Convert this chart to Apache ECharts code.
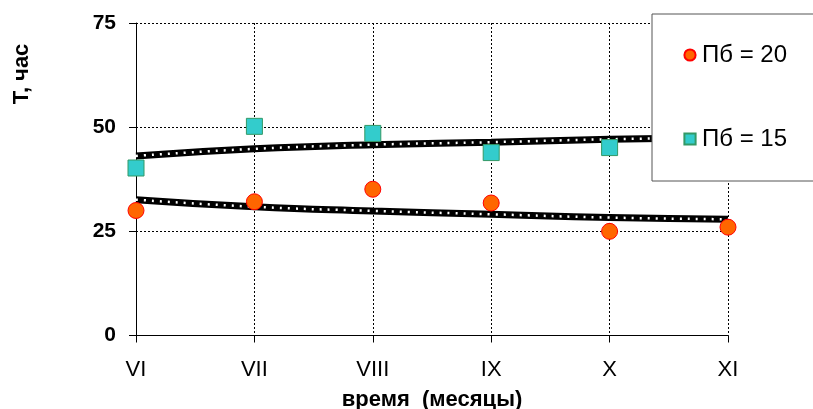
<!DOCTYPE html>
<html>
<head>
<meta charset="utf-8">
<script src="https://cdn.jsdelivr.net/npm/echarts@6/dist/echarts.min.js"></script>
<style>
  html, body { margin: 0; padding: 0; background: #fff; }
  #chart { width: 813px; height: 409px; }
</style>
</head>
<body>
<div id="chart"></div>
<script>
// months
var months = ['VI', 'VII', 'VIII', 'IX', 'X', 'XI'];
// measured points
var pb20 = [30, 32.1, 35.1, 31.8, 25, 26];
var pb15 = [40.2, 50.2, 48.5, 43.9, 45.1, 48];
// trend lines
var trend20 = [32.6, 30.9, 29.9, 29.1, 28.3, 27.9];
var trend15 = [43.1, 44.8, 45.8, 46.4, 47.1, 47.5];
var yTicks = [0, 25, 50, 75];

var myChart = echarts.init(document.getElementById('chart'));
var font = 'Liberation Sans, Arial, sans-serif';

function trendLayers(data) {
    return [
        {
            type: 'line', data: data, smooth: true, showSymbol: false, silent: true,
            lineStyle: {color: '#000', width: 7}
        },
        {
            type: 'line', data: data, smooth: true, showSymbol: false, silent: true,
            lineStyle: {color: '#fff', width: 2.5, type: [2, 6], cap: 'butt'}
        }
    ];
}

var option = {
    animation: false,
    grid: {left: 136, right: 85, top: 23, bottom: 73.5, outerBoundsMode: 'none', containLabel: false},
    legend: {
        data: ['Пб = 20', 'Пб = 15'],
        orient: 'vertical',
        left: 652, top: 14,
        padding: [29, 60, 30, 31],
        itemGap: 60,
        itemWidth: 14, itemHeight: 14,
        backgroundColor: '#fff',
        borderColor: '#555', borderWidth: 1,
        textStyle: {fontFamily: font, fontSize: 24, color: '#000'}
    },
    xAxis: {
        type: 'category',
        data: months,
        boundaryGap: false,
        name: 'время  (месяцы)',
        nameLocation: 'middle',
        nameGap: 53,
        nameTextStyle: {fontFamily: font, fontSize: 22, fontWeight: 'bold', color: '#000'},
        axisLine: {lineStyle: {color: '#000', width: 1}},
        axisTick: {show: true, length: 7, lineStyle: {color: '#000'}},
        axisLabel: {fontFamily: font, fontSize: 22, color: '#000', margin: 23},
        splitLine: {show: true, lineStyle: {color: '#000', type: [2, 2], width: 1}}
    },
    yAxis: {
        type: 'value',
        min: yTicks[0], max: yTicks[yTicks.length - 1], interval: 25,
        axisLine: {show: true, lineStyle: {color: '#000', width: 1}},
        axisTick: {show: true, length: 7, lineStyle: {color: '#000'}},
        axisLabel: {fontFamily: font, fontSize: 21, fontWeight: 'bold', color: '#000', margin: 20},
        splitLine: {show: true, lineStyle: {color: '#000', type: [2, 2], width: 1}}
    },
    graphic: [{
        type: 'text',
        x: 22, y: 74,
        rotation: Math.PI / 2,
        style: {
            text: 'Т, час',
            fontFamily: font, fontSize: 22, fontWeight: 'bold', fill: '#000',
            textAlign: 'center', textVerticalAlign: 'middle'
        }
    }],
    series: [
        {
            name: 'Пб = 20', type: 'line', data: pb20,
            lineStyle: {width: 0}, symbol: 'circle', symbolSize: 16,
            itemStyle: {color: '#ff6600', borderColor: '#ff0000', borderWidth: 1}
        },
        {
            name: 'Пб = 15', type: 'line', data: pb15,
            lineStyle: {width: 0}, symbol: 'rect', symbolSize: 16,
            itemStyle: {color: '#33cccc', borderColor: '#339966', borderWidth: 1}
        }
    ].concat(trendLayers(trend15), trendLayers(trend20))
};

myChart.setOption(option);
</script>
</body>
</html>
